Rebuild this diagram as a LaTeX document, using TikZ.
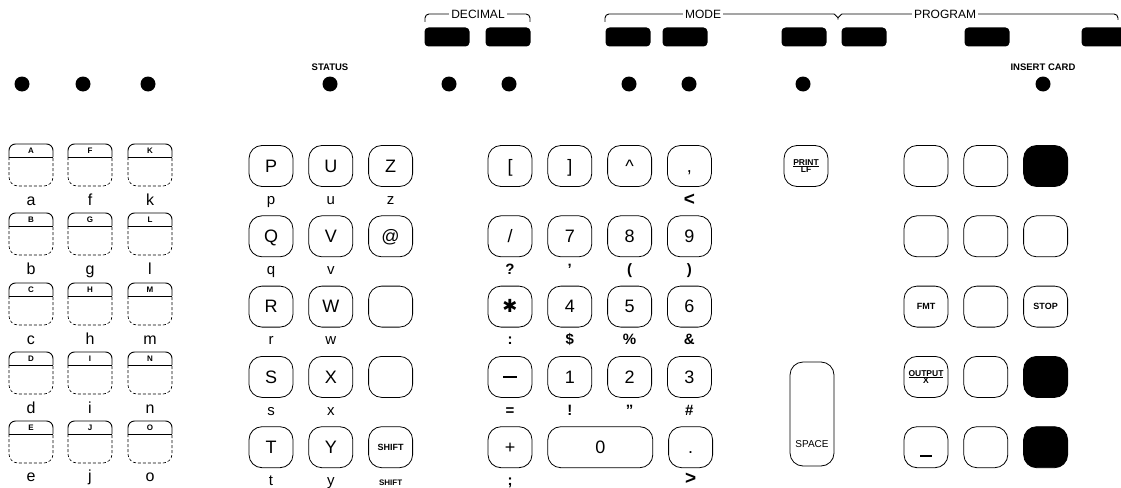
\documentclass[tikz,border=0pt]{standalone}
\usepackage{fontspec}
\setmainfont{Liberation Sans}
\newfontfamily\symfont{DejaVu Sans}
\usepackage{tikz}
\usetikzlibrary{positioning}
\tikzset{key/.style={draw,rounded corners=13pt,line width=0.8pt,minimum width=44pt,minimum height=41pt,inner sep=0pt,text height=12.5pt,text depth=0pt,font=\fontsize{18}{18}\selectfont},
	 bkey/.style={key,fill=black},
	 skey/.style={key,font=\bfseries\fontsize{9}{9}\selectfont,text height=6.5pt},
	 fkey/.style={key,font=\bfseries\fontsize{8.5}{8.5}\selectfont,text height=,text depth=},
	 lbl/.style={font=\fontsize{15}{15}\selectfont,inner sep=0pt,text height=11pt,text depth=3pt},
	 sym/.style={lbl,font=\bfseries\fontsize{15}{15}\selectfont},
	 big/.style={lbl,font=\bfseries\fontsize{19}{19}\selectfont,text height=12pt,text depth=0pt},
	 slbl/.style={lbl,font=\bfseries\fontsize{8}{8}\selectfont},
	 llbl/.style={font=\fontsize{16}{16}\selectfont,inner sep=0pt,anchor=base},
	 lamp/.style={circle,fill=black,inner sep=0pt,minimum size=15pt},
	 bar/.style={fill=black,rounded corners=4pt,inner sep=0pt,minimum width=45pt,minimum height=19pt},
	 hdr/.style={font=\fontsize{12}{12}\selectfont,fill=white,inner sep=2pt},
	 tag/.style={font=\bfseries\fontsize{9.5}{9.5}\selectfont,inner sep=0pt},
	 brace/.style={line width=0.9pt,rounded corners=4pt},
	 lkey/.pic={
	   \draw[line width=0.6pt,dash pattern=on 3pt off 2pt,rounded corners=9pt] (-22,-6) -- (-22,-35) -- (22,-35) -- (22,-6);
	   \draw[line width=0.9pt,rounded corners=6.5pt] (-22,-6) -- (-22,7) -- (22,7) -- (22,-6);
	   \draw[line width=0.9pt] (-22,-6) -- (22,-6);
	   \node[font=\bfseries\fontsize{8}{8}\selectfont,inner sep=0pt] (-cap) at (0,0.5) {\tikzpictext};},
	 node distance=28.5pt and 15pt
	 }

\begin{document}
\begin{tikzpicture}[x=1pt,y=1pt,label distance=6pt] % keyboard panel
	\useasboundingbox (0,0) rectangle (1121,-487);
	% header
	\draw[brace] (425,-22) |- (530,-14) -- (530,-22);
	\node[hdr] (dec) at (478,-14) {DECIMAL};
	\draw[brace] (605,-22) |- (830,-14) to[out=0,in=90] (838,-22) to[out=90,in=180] (846,-14) -- (1118,-14) -- (1118,-20);
	\node[hdr] (mode) at (703,-14) {MODE};
	\node[hdr] (prog) at (945,-14) {PROGRAM};
	\node[bar] (b1) at (447,-37) {};
	\node[bar] (b2) at (508,-37) {};
	\node[bar] (b3) at (628,-37) {};
	\node[bar] (b4) at (685,-37) {};
	\node[bar] (b5) at (804,-37) {};
	\node[bar] (b6) at (864,-37) {};
	\node[bar] (b7) at (987,-37) {};
	\node[bar] (b8) at (1104,-37) {};
	\node[tag] (status) at (330,-67) {STATUS};
	\node[tag] (insert) at (1043,-67) {INSERT CARD};
	\node[lamp] (l1) at (22,-84) {};
	\node[lamp] (l2) at (83,-84) {};
	\node[lamp] (l3) at (148,-84) {};
	\node[lamp] (l4) at (330,-84) {};
	\node[lamp] (l5) at (449,-84) {};
	\node[lamp] (l6) at (509,-84) {};
	\node[lamp] (l7) at (629,-84) {};
	\node[lamp] (l8) at (689,-84) {};
	\node[lamp] (l9) at (803,-84) {};
	\node[lamp] (l10) at (1043,-84) {};
	% lower case keys
	\pic[pic text=A] (kA) at (31,-151) {lkey};
	\pic[pic text=F] (kF) at (90,-151) {lkey};
	\pic[pic text=K] (kK) at (150,-151) {lkey};
	\pic[pic text=B] (kB) at (31,-220) {lkey};
	\pic[pic text=G] (kG) at (90,-220) {lkey};
	\pic[pic text=L] (kL) at (150,-220) {lkey};
	\pic[pic text=C] (kC) at (31,-290) {lkey};
	\pic[pic text=H] (kH) at (90,-290) {lkey};
	\pic[pic text=M] (kM) at (150,-290) {lkey};
	\pic[pic text=D] (kD) at (31,-359) {lkey};
	\pic[pic text=I] (kI) at (90,-359) {lkey};
	\pic[pic text=N] (kN) at (150,-359) {lkey};
	\pic[pic text=E] (kE) at (31,-428) {lkey};
	\pic[pic text=J] (kJ) at (90,-428) {lkey};
	\pic[pic text=O] (kO) at (150,-428) {lkey};
	\node[llbl] (la) at (31,-205) {a};
	\node[llbl] (lf) at (90,-205) {f};
	\node[llbl] (lk) at (150,-205) {k};
	\node[llbl] (lb) at (31,-274) {b};
	\node[llbl] (lg) at (90,-274) {g};
	\node[llbl] (ll) at (150,-274) {l};
	\node[llbl] (lc) at (31,-344) {c};
	\node[llbl] (lh) at (90,-344) {h};
	\node[llbl] (lm) at (150,-344) {m};
	\node[llbl] (ld) at (31,-413) {d};
	\node[llbl] (li) at (90,-413) {i};
	\node[llbl] (ln) at (150,-413) {n};
	\node[llbl] (le) at (31,-481) {e};
	\node[llbl] (lj) at (90,-481) {j};
	\node[llbl] (lo) at (150,-481) {o};
	% letter keys
	\node[key] (kP) at (271,-166) [label={[lbl]below:p}] {P};
	\node[key] (kU) [right=of kP] [label={[lbl]below:u}] {U};
	\node[key] (kZ) [right=of kU] [label={[lbl]below:z}] {Z};
	\node[key] (kQ) [below=of kP] [label={[lbl]below:q}] {Q};
	\node[key] (kV) [right=of kQ] [label={[lbl]below:v}] {V};
	\node[key] (kAt) [right=of kV] {@};
	\node[key] (kR) [below=of kQ] [label={[lbl]below:r}] {R};
	\node[key] (kW) [right=of kR] [label={[lbl]below:w}] {W};
	\node[key] (kR3) [right=of kW] {};
	\node[key] (kS) [below=of kR] [label={[lbl]below:s}] {S};
	\node[key] (kX) [right=of kS] [label={[lbl]below:x}] {X};
	\node[key] (kS3) [right=of kX] {};
	\node[key] (kT) [below=of kS] [label={[lbl]below:t}] {T};
	\node[key] (kY) [right=of kT] [label={[lbl]below:y}] {Y};
	\node[skey] (kShift) [right=of kY] [label={[slbl]below:SHIFT}] {SHIFT};
	% number keys
	\node[key] (nLb) at (510,-166) {[};
	\node[key] (nRb) [right=of nLb] {]};
	\node[key] (nHat) [right=of nRb] {\textasciicircum};
	\node[key] (nComma) [right=of nHat] [label={[big]below:<}] {,};
	\node[key] (nSlash) [below=of nLb] [label={[sym]below:?}] {/};
	\node[key] (n7) [right=of nSlash] [label={[sym]below:'}] {7};
	\node[key] (n8) [right=of n7] [label={[sym]below:(}] {8};
	\node[key] (n9) [right=of n8] [label={[sym]below:)}] {9};
	\node[key] (nStar) [below=of nSlash] [label={[sym]below:{:}}] {{\symfont ✱}};
	\node[key] (n4) [right=of nStar] [label={[sym]below:\$}] {4};
	\node[key] (n5) [right=of n4] [label={[sym]below:\%}] {5};
	\node[key] (n6) [right=of n5] [label={[sym]below:\&}] {6};
	\node[key] (nMinus) [below=of nStar] [label={[sym]below:{=}}] {\rule[5pt]{14pt}{2pt}};
	\node[key] (n1) [right=of nMinus] [label={[sym]below:!}] {1};
	\node[key] (n2) [right=of n1] [label={[sym]below:"}] {2};
	\node[key] (n3) [right=of n2] [label={[sym]below:\#}] {3};
	\node[key] (nPlus) [below=of nMinus] [label={[sym]below:{;}}] {+};
	\node[key,minimum width=105pt] (n0) [right=of nPlus] {0};
	\node[key] (nDot) [right=of n0] [label={[big,label distance=4pt]below:>}] {.};
	% function keys
	\node[fkey] (kPrint) at (806,-166) {$\frac{\hbox{PRINT}}{\hbox{LF}}$};
	\node[key,minimum height=104pt] (kSpace) at (812,-414) {};
	\node[tag,font=\fontsize{10}{10}\selectfont] (spc) at (812,-444) {SPACE};
	\node[key] (r11) at (926,-166) {};
	\node[key] (r12) [right=of r11] {};
	\node[bkey] (r13) [right=of r12] {};
	\node[key] (r21) [below=of r11] {};
	\node[key] (r22) [right=of r21] {};
	\node[key] (r23) [right=of r22] {};
	\node[skey] (r31) [below=of r21] {FMT};
	\node[key] (r32) [right=of r31] {};
	\node[skey] (r33) [right=of r32] {STOP};
	\node[fkey] (r41) [below=of r31] {$\frac{\hbox{OUTPUT}}{\hbox{X}}$};
	\node[key] (r42) [right=of r41] {};
	\node[bkey] (r43) [right=of r42] {};
	\node[key,text height=20pt,text depth=0pt] (r51) [below=of r41] {\rule{12pt}{2pt}};
	\node[key] (r52) [right=of r51] {};
	\node[bkey] (r53) [right=of r52] {};
\end{tikzpicture}
\end{document}
